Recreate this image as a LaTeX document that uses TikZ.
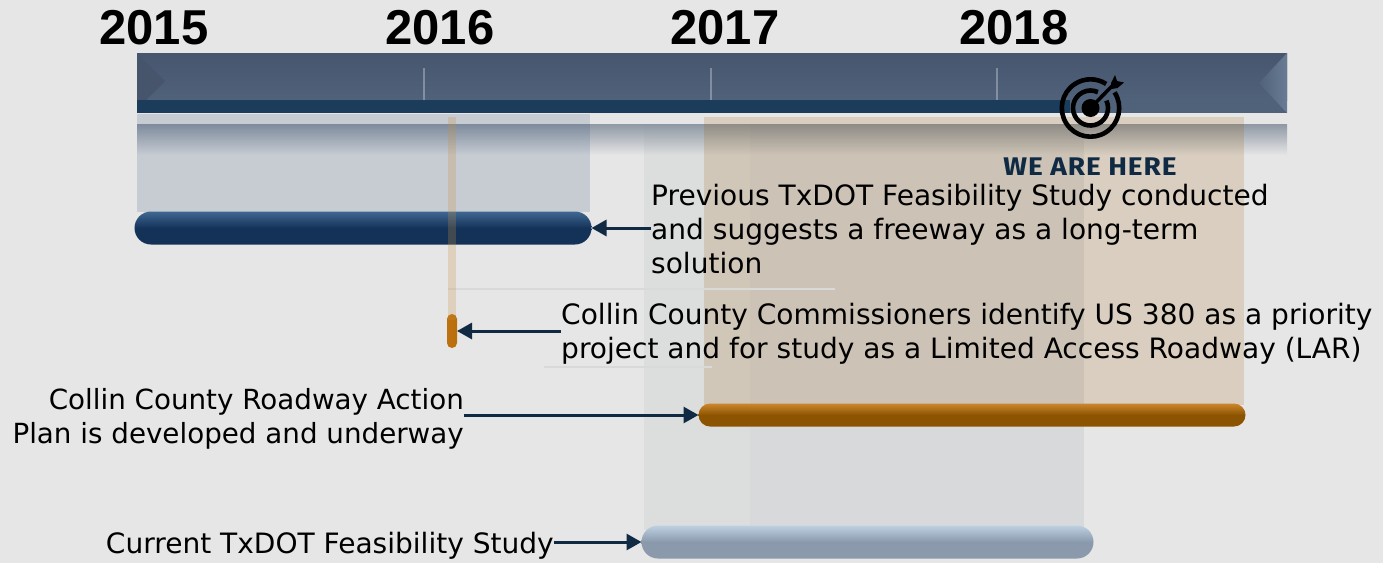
\documentclass[tikz,border=0pt]{standalone}
\usepackage{fontspec}
\setmainfont{DejaVu Sans}
\newfontfamily\yearfont{Liberation Sans}
\newfontfamily\herefont{Fira Sans}[FakeStretch=1.1,LetterSpace=3.5]
\usetikzlibrary{arrows.meta,shadings,calc}
\definecolor{bgc}{HTML}{E6E6E6}
\definecolor{navy}{HTML}{0F2A42}
\definecolor{bluebase}{HTML}{2A4A78}
\definecolor{tanbase}{HTML}{9A5A00}
\definecolor{stripbase}{HTML}{C89040}
\definecolor{reflect}{HTML}{8F98A4}
\definecolor{palebase}{HTML}{8C9A9A}
\definecolor{stepbase}{HTML}{6A6A8A}
\definecolor{mainTop}{HTML}{46566E}
\definecolor{mainBot}{HTML}{50617A}
\definecolor{capL}{HTML}{46546C}
\definecolor{capR}{HTML}{6A7B95}
\definecolor{strip}{HTML}{1B3C5A}
\definecolor{bOneT}{HTML}{406892}
\definecolor{bOneB}{HTML}{143258}
\definecolor{bTwoL}{HTML}{BE7010}
\definecolor{bTwoM}{HTML}{E08A10}
\definecolor{bTwoR}{HTML}{B86E0A}
\definecolor{bThreeT}{HTML}{CD872D}
\definecolor{bThreeB}{HTML}{8C5400}
\definecolor{bFourT}{HTML}{BED0E2}
\definecolor{bFourB}{HTML}{8A9AAC}
\tikzset{
  yearlab/.style={font=\yearfont\bfseries\fontsize{49}{49}\selectfont,text=black,inner sep=0pt,anchor=center},
  txt/.style={font=\fontsize{28.05}{34}\selectfont,text=black,inner sep=0pt,align=left},
  txtr/.style={txt,align=right},
  barbox/.style={inner sep=0pt,outer sep=0pt},
  conn/.style={draw=navy,line width=3pt,-{Triangle[length=15pt,width=16pt]}},
  tickmark/.style={draw=white,opacity=.3,line width=1.4pt},
  ring/.style={draw=black,line width=4.6pt},
}
\begin{document}
\begin{tikzpicture}[x=1pt,y=-1pt]
\useasboundingbox (0,0) rectangle (1383,563);
\fill[bgc] (0,0) rectangle (1383,563);
% reflection below the bar
\shade[top color=reflect,bottom color=bgc] (137,124) rectangle (1287,155);
% translucent panels
\fill[bluebase,opacity=.165] (137,114) rectangle (590,212);
\fill[palebase,opacity=.1] (644,124) rectangle (1084,530);
\fill[stepbase,opacity=.035] (750,124) rectangle (1084,530);
\fill[tanbase,opacity=.17] (704,117) rectangle (1244,405);
% main bar
\shade[top color=mainTop,bottom color=mainBot] (137,53) rectangle (1287,100);
\fill[mainBot] (137,100) rectangle (1287,113);
\fill[capL] (137,53) -- (165,81) -- (137,109) -- cycle;
\shade[left color=mainBot,right color=capR] (1287,53) -- (1259,83) -- (1287,113) -- cycle;
\fill[strip] (137,100) rectangle (1070,113);
\draw[tickmark] (424,68) -- (424,100);
\draw[tickmark] (711,68) -- (711,100);
\draw[tickmark] (997,68) -- (997,100);
% faint rules
\draw[black!15,line width=1.3pt] (448,289) -- (835,289);
\draw[black!15,line width=1.3pt] (544,367) -- (712,367);
% years
\node[yearlab] (y15) at (154,28) {2015};
\node[yearlab] (y16) at (440,28) {2016};
\node[yearlab] (y17) at (725,28) {2017};
\node[yearlab] (y18) at (1014,28) {2018};
% target icon
\draw[ring] (1090.5,108) ++(-33:28.7) arc[start angle=-33,end angle=303,radius=28.7];
\draw[ring] (1090.5,108) ++(-25:17.5) arc[start angle=-25,end angle=295,radius=17.5];
\fill[black] (1090.5,108) circle[radius=9];
\draw[black,line width=3.6pt] (1090.5,108) -- (1114,84);
\fill[black] (1111,83) -- (1115,75) -- (1117,81) -- (1124,82.5) -- (1117.5,88) -- (1111.5,89) -- cycle;
\node[font=\herefont\bfseries\fontsize{25.5}{25.5}\selectfont,text=navy,inner sep=0pt] (here) at (1090,167) {WE ARE HERE};
% bars
\node[barbox,minimum height=33pt,minimum width=457pt,rounded corners=16.5pt,top color=bOneT,bottom color=bOneB,middle color=bOneB] (b1) at (363,228) {};
\node[barbox,minimum width=10pt,minimum height=34pt,rounded corners=5pt,left color=bTwoL,middle color=bTwoM,right color=bTwoR] (b2) at (452,331) {};
\node[barbox,minimum height=23pt,minimum width=547pt,rounded corners=11.5pt,top color=bThreeT,bottom color=bThreeB,middle color=bThreeB] (b3) at (972,415) {};
\node[barbox,minimum height=33pt,minimum width=452pt,rounded corners=16.5pt,top color=bFourT,bottom color=bFourB,middle color=bFourB] (b4) at (867.5,542) {};
% pale upright band over the first bar
\fill[stripbase,opacity=.25] (448,117) rectangle (456,320);
% labels
\node[txt,anchor=north west] (t1) at (651,183.5) {Previous TxDOT Feasibility Study conducted\\and suggests a freeway as a long-term\\solution};
\node[txt,anchor=north west] (t2) at (561,303) {Collin County Commissioners identify US 380 as a priority\\project and for study as a Limited Access Roadway (LAR)};
\node[txtr,font=\fontsize{27.75}{34}\selectfont,anchor=north east] (t3) at (464,388) {Collin County Roadway Action\\Plan is developed and underway};
\node[txtr,anchor=east] (t4) at (554,546) {Current TxDOT Feasibility Study};
% connectors
\draw[conn] (t1.west |- b1.east) -- (b1.east);
\draw[conn] (t2.west |- b2.east) -- (b2.east);
\draw[conn] (t3.east |- b3.west) -- (b3.west);
\draw[conn] (t4.east |- b4.west) -- (b4.west);
\end{tikzpicture}
\end{document}
